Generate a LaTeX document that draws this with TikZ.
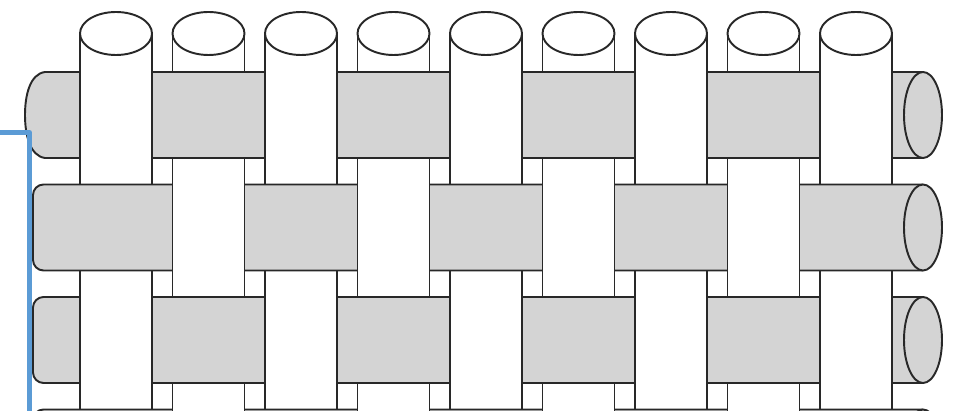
\documentclass[tikz,border=0pt]{standalone}
\usepackage{xcolor}
\usepackage{tikz}

\definecolor{weft}{RGB}{212,212,212}
\definecolor{edge}{RGB}{40,40,40}
\definecolor{marker}{RGB}{91,155,213}

\begin{document}
\begin{tikzpicture}[x=0.02cm,y=-0.02cm,line width=1.1pt,line join=round]
  \useasboundingbox (0,0) rectangle (961,411);
  \clip (0,0) rectangle (961,411);
  % warp yarns with their round tops
  \foreach \i in {0,...,8} {
    \pgfmathsetmacro{\c}{116+92.5*\i}
    \draw[edge,fill=white] (\c-36,33.5) rectangle (\c+36,430);
    \draw[edge,fill=white] (\c,33.5) ellipse (36 and 21.5);
  }
  % weft yarns
  \draw[edge,fill=weft] (923,72) -- (45,72) .. controls (30,74) and (25,95) .. (25,115)
    .. controls (25,135) and (30,156) .. (45,158) -- (923,158);
  \draw[edge,fill=weft] (923,115) ellipse (19 and 43);
  \foreach \t in {184.5,297,409.5} {
    \draw[edge,fill=weft,rounded corners=6pt] (923,\t) -- (33,\t) -- (33,\t+86) -- (923,\t+86);
    \draw[edge,fill=weft] (923,\t+43) ellipse (19 and 43);
  }
  % warp passing over the weft
  \foreach \r/\t in {0/72,1/184.5,2/297,3/409.5}
    \foreach \i in {0,...,8} {
      \pgfmathtruncatemacro{\k}{\i+\r}
      \ifodd\k\else
        \pgfmathsetmacro{\c}{116+92.5*\i}
        \fill[white] (\c-36,\t-1.5) rectangle (\c+36,\t+87.5);
        \draw[edge] (\c-36,\t-1.5) -- (\c-36,\t+87.5) (\c+36,\t-1.5) -- (\c+36,\t+87.5);
      \fi
    }
  % blue bracket on the left
  \draw[marker,line width=2.8pt] (0,132.5) -- (29.5,132.5) -- (29.5,430);
\end{tikzpicture}
\end{document}
